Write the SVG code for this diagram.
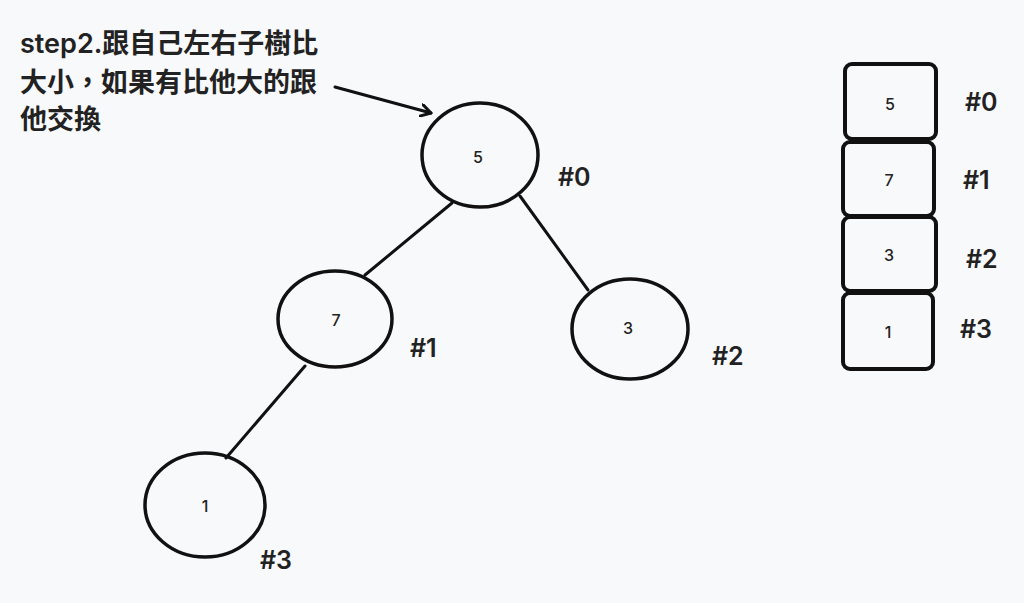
<svg xmlns="http://www.w3.org/2000/svg" width="1024" height="603" viewBox="0 0 1024 603">
<defs>
<style>
.bg{fill:#f8f9fa}
.node{fill:none;stroke:#111;stroke-width:3.5}
.box{fill:none;stroke:#111;stroke-width:4}
.edge{stroke:#111;stroke-width:3;fill:none;stroke-linecap:round}
.val{font-family:Inter,"Noto Sans","Noto Sans CJK TC",sans-serif;font-size:16px;font-weight:500;fill:#222;text-anchor:middle;dominant-baseline:central}
.idx{font-family:Inter,"Noto Sans","Noto Sans CJK TC",sans-serif;font-size:25px;font-weight:600;fill:#222}
.note{font-family:Inter,"Noto Sans CJK TC",sans-serif;font-size:27px;font-weight:600;fill:#222}
</style>
<marker id="ah" markerWidth="14" markerHeight="14" refX="11" refY="7" orient="auto" markerUnits="userSpaceOnUse">
<path d="M1,1 L11,7 L1,13" fill="none" stroke="#111" stroke-width="3" stroke-linecap="round" stroke-linejoin="round"/>
</marker>
</defs>
<rect class="bg" x="0" y="0" width="1024" height="603"/>
<g id="connectors">
<line class="edge" x1="452" y1="203" x2="365" y2="275"/>
<line class="edge" x1="520" y1="196" x2="588" y2="290"/>
<line class="edge" x1="305" y1="366" x2="226" y2="458"/>
<path class="edge" d="M335,87 L431,113" marker-end="url(#ah)"/>
</g>
<g id="note">
<text class="note" x="20" y="53">step2.跟自己左右子樹比</text>
<text class="note" x="20" y="92">大小，如果有比他大的跟</text>
<text class="note" x="20" y="129">他交換</text>
</g>
<g id="node0">
<ellipse class="node" cx="480" cy="155" rx="58" ry="52"/>
<text class="val" x="478" y="157">5</text>
<text class="idx" x="558" y="186">#0</text>
</g>
<g id="node1">
<ellipse class="node" cx="335" cy="319" rx="57" ry="48"/>
<text class="val" x="336" y="320">7</text>
<text class="idx" x="410" y="357">#1</text>
</g>
<g id="node2">
<ellipse class="node" cx="630" cy="329" rx="58" ry="50"/>
<text class="val" x="628" y="328">3</text>
<text class="idx" x="712" y="365">#2</text>
</g>
<g id="node3">
<ellipse class="node" cx="205" cy="505" rx="60" ry="52"/>
<text class="val" x="205" y="506">1</text>
<text class="idx" x="260" y="569">#3</text>
</g>
<g id="arr0">
<rect class="box" x="845" y="64" width="91" height="75" rx="7"/>
<text class="val" x="890" y="104">5</text>
<text class="idx" x="965" y="111">#0</text>
</g>
<g id="arr1">
<rect class="box" x="843" y="142" width="91" height="74" rx="7"/>
<text class="val" x="889" y="180">7</text>
<text class="idx" x="963" y="189">#1</text>
</g>
<g id="arr2">
<rect class="box" x="843" y="217" width="93" height="74" rx="7"/>
<text class="val" x="889" y="255">3</text>
<text class="idx" x="966" y="268">#2</text>
</g>
<g id="arr3">
<rect class="box" x="843" y="293" width="90" height="76" rx="7"/>
<text class="val" x="888" y="332">1</text>
<text class="idx" x="960" y="338">#3</text>
</g>
</svg>
